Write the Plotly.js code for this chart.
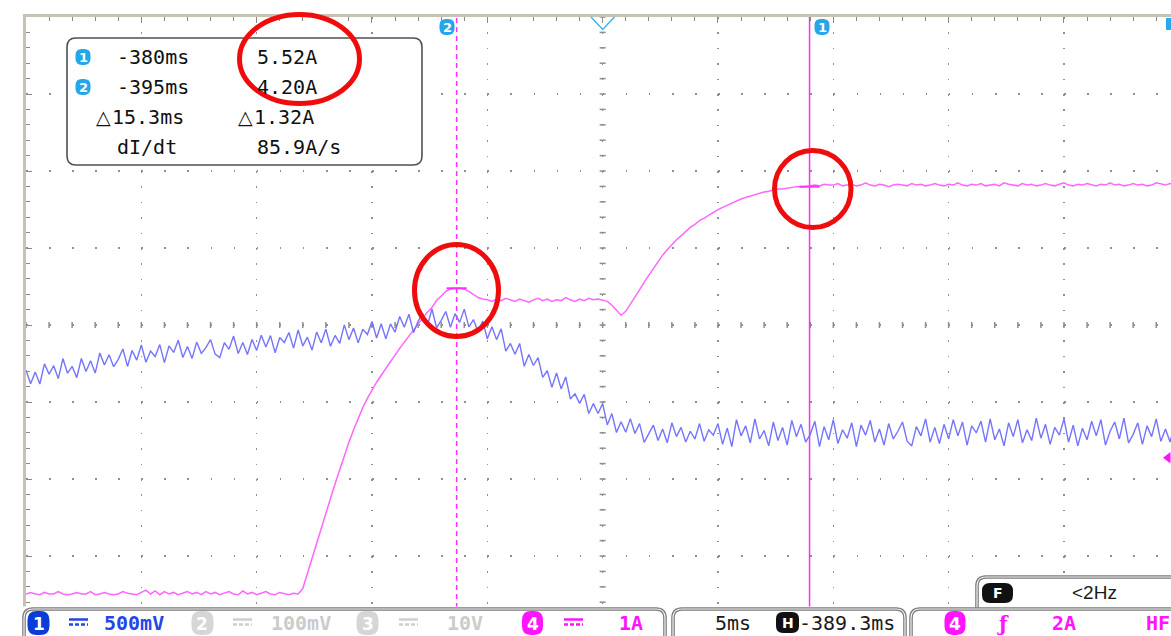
<!DOCTYPE html>
<html><head><meta charset="utf-8">
<script src="https://cdn.plot.ly/plotly-3.0.1.min.js"></script>
<style>html,body{margin:0;padding:0;background:#fff;overflow:hidden}#chart{width:1171px;height:636px}</style>
</head><body><div id="chart"></div>
<script>
// ---- acquisition settings ----
const startTimeMs = -414.3;      // left edge of the screen
const sampleStepMs = 0.2;        // sample spacing
const timePerDivMs = 5;          // 5ms/div
const ch4AmpsPerDiv = 1;         // 1A/div
const ch1mVPerDiv = 500;         // 500mV/div
const triggerTimeMs = -389.3;    // H -389.3ms
const triggerLevelA = 2;         // trigger 2A

// ---- channel 4 (current, A) ----
const ch4Amps = [
0.23,0.25,0.23,0.22,0.25,0.23,0.23,0.26,0.23,0.22,
0.23,0.25,0.23,0.23,0.26,0.22,0.23,0.25,0.23,0.22,
0.23,0.26,0.24,0.23,0.22,0.25,0.28,0.23,0.27,0.22,
0.26,0.23,0.25,0.22,0.24,0.26,0.23,0.25,0.22,0.26,
0.23,0.25,0.22,0.24,0.26,0.23,0.22,0.27,0.23,0.25,
0.22,0.24,0.26,0.23,0.22,0.25,0.23,0.22,0.24,0.23,
0.30,0.50,0.70,0.90,1.09,1.28,1.47,1.66,1.85,2.03,
2.20,2.36,2.51,2.65,2.77,2.88,2.98,3.07,3.16,3.25,
3.34,3.42,3.50,3.58,3.66,3.74,3.81,3.89,3.95,4.04,
4.10,4.16,4.19,4.20,4.20,4.19,4.16,4.12,4.08,4.06,
4.05,4.03,4.06,4.04,4.07,4.05,4.03,4.06,4.04,4.02,
4.05,4.07,4.04,4.06,4.03,4.05,4.04,4.08,4.05,4.03,
4.06,4.04,4.07,4.05,4.06,4.04,
4.03,3.98,3.92,3.85,3.90,3.99,4.08,4.18,4.28,4.37,
4.46,4.55,4.63,4.70,4.77,4.83,4.88,4.94,4.99,5.03,
5.08,5.11,5.15,5.18,5.22,5.25,5.28,5.31,5.33,5.36,
5.38,5.40,5.42,5.43,5.45,5.46,5.48,5.49,5.49,5.50,
5.51,5.52,5.52,5.52,
5.53,5.54,5.53,5.55,5.54,5.54,5.56,5.53,5.54,5.55,
5.53,5.54,5.57,5.54,5.53,5.55,5.54,5.52,5.54,5.55,
5.54,5.53,5.56,5.54,5.55,5.53,5.54,5.56,5.54,5.53,
5.55,5.54,5.57,5.54,5.53,5.55,5.54,5.56,5.53,5.54,
5.55,5.53,5.57,5.55,5.54,5.53,5.56,5.54,5.55,5.53,
5.54,5.56,5.54,5.53,5.55,5.57,5.54,5.53,5.55,5.54,
5.56,5.54,5.53,5.55,5.54,5.57,5.54,5.55,5.53,5.54,
5.56,5.54,5.55,5.53,5.54,5.57,5.55,5.54,5.56,5.55
];

// ---- channel 1 (mV, relative to screen centre) ----
const ch1mV = [
-293,-382,-305,-383,-252,-320,-264,-348,-218,-313,
-268,-342,-217,-302,-232,-312,-182,-260,-193,-271,
-223,-156,-269,-166,-228,-130,-242,-169,-205,-127,
-244,-136,-178,-99,-211,-139,-217,-111,-184,-147,
-95,-189,-212,-115,-158,-72,-185,-114,-192,-94,
-165,-67,-143,-69,-180,-81,-113,-49,-150,-32,
-136,-79,-163,-46,-115,-27,-138,-68,-119,1,
-95,-20,-116,-27,-62,23,-84,8,-90,7,
-46,55,-15,70,-50,25,75,-5,104,-18,
30,88,-15,74,17,103,-12,35,-45,25,
-90,-12,-95,-25,-170,-120,-190,-120,-268,-192,
-263,-212,-340,-297,-405,-312,-415,-337,-480,-447,
-509,-450,-575,-510,-575,-510,-649,-575,-698,-628,
-696,-608,-705,-640,-762,-705,-650,-750,-675,-765,
-635,-725,-665,-760,-690,-740,-640,-755,-680,-715,
-640,-775,-670,-790,-615,-720,-655,-765,-610,-740,
-685,-785,-630,-750,-665,-780,-620,-725,-645,-760,
-710,-625,-790,-660,-745,-615,-770,-680,-735,-635,
-790,-650,-715,-620,-760,-675,-780,-640,-740,-690,
-630,-755,-785,-660,-720,-610,-760,-665,-770,-645,
-740,-615,-720,-630,-780,-655,-700,-625,-760,-610,
-745,-675,-785,-635,-725,-615,-765,-680,-750,-605,
-735,-645,-775,-665,-715,-610,-760,-650,-785,-670,
-745,-625,-720,-615,-780,-690,-630,-740,-605,-765,
-710,-635,-775,-655,-725,-610,-755,-675,-760,-645
];

// ---- cursors ----
const cursorNames = ['1','2'];
const cursorTimesMs = [-380.33, -395.63];
const cursorLevelsA = [5.52, 4.20];
const readoutLeft = ['-380ms','-395ms'];
const readoutRight = ['5.52A','4.20A'];
const deltaTime = '15.3ms';
const deltaAmp = '1.32A';
const slopeText = '85.9A/s';

// ---- status bar texts ----
const chScales = ['500mV','100mV','10V','1A'];
const timebaseText = '5ms';
const hposText = '-389.3ms';
const trigText = ['4','2A','HF'];
const filterText = '<2Hz';

const time = ch4Amps.map((_, i) => +(startTimeMs + i * sampleStepMs).toFixed(2));

// screen geometry (pixels)
const L = 26, T = 17, W = 1145, H = 616;
const pxPerMs = 115.33 / timePerDivMs;
const xEnd = startTimeMs + W / pxPerMs;
const yMinA = -0.277, yMaxA = yMinA + 8 * ch4AmpsPerDiv;
const px = x => (x - L) / W;
const py = y => (T + H - y) / H;

const MONO = 'DejaVu Sans Mono';
const shapes = [];
const annotations = [];

function rrPath(x0, y0, x1, y1, r) {
  const p = (x, y) => px(x).toFixed(5) + ',' + py(y).toFixed(5);
  return 'M' + p(x0, y0 + r) + ' Q' + p(x0, y0) + ' ' + p(x0 + r, y0) +
    ' L' + p(x1 - r, y0) + ' Q' + p(x1, y0) + ' ' + p(x1, y0 + r) +
    ' L' + p(x1, y1 - r) + ' Q' + p(x1, y1) + ' ' + p(x1 - r, y1) +
    ' L' + p(x0 + r, y1) + ' Q' + p(x0, y1) + ' ' + p(x0, y1 - r) + ' Z';
}
function text(t, x, y, size, color, opts) {
  opts = opts || {};
  annotations.push({xref:'paper', yref:'paper', x:px(x), y:py(y), text:t, showarrow:false,
    xanchor: opts.anchor || 'left', yanchor:'middle', borderpad:0,
    font:{family: opts.family || MONO, size:size, color:color}});
}
function badge(label, cx, cy, rx, ry, fill, txtColor, size) {
  shapes.push({type:'path', xref:'paper', yref:'paper', path:rrPath(cx - rx, cy - ry, cx + rx, cy + ry, Math.min(rx, ry) * 0.85),
    fillcolor:fill, line:{width:0}, layer:'above'});
  text('<b>' + label + '</b>', cx, cy + 0.5, size, txtColor, {anchor:'center', family:'DejaVu Sans'});
}
function dcSymbol(x0, y, color) {
  shapes.push({type:'line', xref:'paper', yref:'paper', x0:px(x0), x1:px(x0+19), y0:py(y-2.5), y1:py(y-2.5), line:{color:color, width:2.5}, layer:'above'});
  shapes.push({type:'line', xref:'paper', yref:'paper', x0:px(x0), x1:px(x0+19), y0:py(y+2.5), y1:py(y+2.5), line:{color:color, width:2.5, dash:'4px,2px'}, layer:'above'});
}

// centre-line tick marks
for (let t = startTimeMs; t <= xEnd + 1e-6; t += timePerDivMs / 5) {
  shapes.push({type:'line', xref:'x', yref:'paper', x0:t, x1:t, y0:0.5 - 3/H, y1:0.5 + 3/H,
    line:{color:'#8e8e8e', width:1.5}, layer:'below'});
}
for (let a = yMinA; a <= yMaxA + 1e-6; a += ch4AmpsPerDiv / 5) {
  shapes.push({type:'line', xref:'x', yref:'y', x0:triggerTimeMs - 3/pxPerMs, x1:triggerTimeMs + 3/pxPerMs, y0:a, y1:a,
    line:{color:'#8e8e8e', width:1.5}, layer:'below'});
}

// cursors
cursorTimesMs.forEach((t, k) => {
  shapes.push({type:'line', xref:'x', yref:'paper', x0:t, x1:t, y0:py(608), y1:1,
    line:{color:'#ff2cff', width:1.5, dash: k === 1 ? '5px,4px' : 'solid'}, layer:'between'});
  shapes.push({type:'line', xref:'x', yref:'y', x0:t - 10/pxPerMs, x1:t + 10/pxPerMs, y0:cursorLevelsA[k], y1:cursorLevelsA[k],
    line:{color:'#ff2cff', width:2}, layer:'above'});
});

// trigger position marker
shapes.push({type:'path', xref:'paper', yref:'paper',
  path:'M' + px(591) + ',' + py(17) + ' L' + px(602.7) + ',' + py(29.5) + ' L' + px(614.5) + ',' + py(17),
  line:{color:'#3cb4f0', width:1.5}, layer:'above'});
// partial cyan marker top right
shapes.push({type:'rect', xref:'paper', yref:'paper', x0:px(1166), x1:px(1172), y0:py(30), y1:py(18),
  fillcolor:'#2aa8ec', line:{width:0}, layer:'above'});

// cursor badges on top
badge(cursorNames[1], 447, 27, 7.5, 8, '#24a6ea', '#fff', 13);
badge(cursorNames[0], 822, 27, 7.5, 8, '#24a6ea', '#fff', 13);

// readout box
shapes.push({type:'path', xref:'paper', yref:'paper', path:rrPath(67, 38, 422, 165, 9),
  fillcolor:'#fff', line:{color:'#505050', width:1.6}, layer:'above'});
badge(cursorNames[0], 83, 57, 7.5, 8, '#24a6ea', '#fff', 13);
badge(cursorNames[1], 83, 87, 7.5, 8, '#24a6ea', '#fff', 13);
text(readoutLeft[0], 116, 57, 20, '#111');
text(readoutRight[0], 256, 57, 20, '#111');
text(readoutLeft[1], 116, 87, 20, '#111');
text(readoutRight[1], 256, 87, 20, '#111');
text('△', 95, 117, 19, '#111', {family:'DejaVu Sans'});
text(deltaTime, 111, 117, 20, '#111');
text('△', 237, 117, 19, '#111', {family:'DejaVu Sans'});
text(deltaAmp, 253, 117, 20, '#111');
text('dI/dt', 116, 147, 20, '#111');
text(slopeText, 256, 147, 20, '#111');

// red highlight ellipses
[[239.5, 14.5, 359.5, 103.5], [414.5, 244.5, 498.5, 336.5], [774.5, 150.5, 851, 227.5]].forEach(e => {
  shapes.push({type:'circle', xref:'paper', yref:'paper', x0:px(e[0]), x1:px(e[2]), y0:py(e[3]), y1:py(e[1]),
    line:{color:'#f00c0c', width:5}, layer:'above'});
});

// status bar background
shapes.push({type:'rect', xref:'paper', yref:'paper', x0:px(0), x1:px(1171), y0:py(640), y1:py(606.5),
  fillcolor:'#fff', line:{width:0}, layer:'above'});
function doubleBox(x0, y0, x1, y1, r) {
  shapes.push({type:'path', xref:'paper', yref:'paper', path:rrPath(x0, y0, x1, y1, r),
    fillcolor:'#fff', line:{color:'#7c7c7c', width:3.6}, layer:'above'});
  shapes.push({type:'path', xref:'paper', yref:'paper', path:rrPath(x0, y0, x1, y1, r),
    fillcolor:'rgba(0,0,0,0)', line:{color:'#f2f2f2', width:1.2}, layer:'above'});
}
doubleBox(977, 577, 1250, 640, 9);
doubleBox(24, 609, 665, 660, 9);
doubleBox(673, 609, 905, 660, 9);
doubleBox(911, 609, 1250, 660, 9);

// F badge
shapes.push({type:'path', xref:'paper', yref:'paper', path:rrPath(982, 583, 1013, 603, 8),
  fillcolor:'#111', line:{width:0}, layer:'above'});
text('<b>F</b>', 997.5, 593, 14, '#fff', {anchor:'center', family:'DejaVu Sans'});
text(filterText, 1071, 592, 19, '#1a1a1a', {family:'Liberation Sans'});

// status bar content
const SY = 623;
badge('1', 38.5, SY, 11, 12, '#0b3cd8', '#fff', 17);
dcSymbol(69, SY - 1, '#2346ea');
text('<b>' + chScales[0] + '</b>', 103, SY, 20, '#2346ea');
badge('2', 202.5, SY, 11, 12, '#d6d6d6', '#fff', 17);
dcSymbol(233, SY - 1, '#cfcfcf');
text('<b>' + chScales[1] + '</b>', 270, SY, 20, '#cbcbcb');
badge('3', 367.5, SY, 11, 12, '#d6d6d6', '#fff', 17);
dcSymbol(399, SY - 1, '#cfcfcf');
text('<b>' + chScales[2] + '</b>', 446, SY, 20, '#cbcbcb');
badge('4', 532.5, SY, 10.5, 12, '#ff14ff', '#fff', 17);
dcSymbol(564, SY - 1, '#ff14ff');
text('<b>' + chScales[3] + '</b>', 618, SY, 20, '#ff14ff');
text(timebaseText, 714, SY, 20, '#1a1a1a');
shapes.push({type:'path', xref:'paper', yref:'paper', path:rrPath(776, 612, 799, 633, 7),
  fillcolor:'#111', line:{width:0}, layer:'above'});
text('<b>H</b>', 787.5, SY, 14, '#fff', {anchor:'center', family:'DejaVu Sans'});
text(hposText, 798, SY, 20, '#1a1a1a');
badge(trigText[0], 955, SY, 10.5, 12, '#ff14ff', '#fff', 17);
text('<b>ƒ</b>', 996, SY + 1, 20, '#ff14ff', {family:'DejaVu Serif'});
text('<b>' + trigText[1] + '</b>', 1051, SY, 20, '#ff14ff');
text('<b>' + trigText[2] + '</b>', 1145, SY, 20, '#ff14ff');

const traces = [
  {x: time, y: ch1mV, type:'scatter', mode:'lines', yaxis:'y2',
   line:{color:'#7474ff', width:1.4}, hoverinfo:'skip', name:'CH1'},
  {x: time, y: ch4Amps, type:'scatter', mode:'lines',
   line:{color:'#ff66ff', width:1.5}, hoverinfo:'skip', name:'CH4'},
  {x:[xEnd - 3/pxPerMs], y:[triggerLevelA], type:'scatter', mode:'markers', cliponaxis:false,
   marker:{symbol:'triangle-left', size:10, color:'#ff14ff'}, hoverinfo:'skip', name:'trig'}
];

const layout = {
  width:1171, height:636,
  margin:{l:L, r:1171 - L - W, t:T, b:636 - T - H, pad:0},
  paper_bgcolor:'#fff', plot_bgcolor:'#fff', showlegend:false,
  xaxis:{range:[startTimeMs, xEnd], side:'top', tick0:startTimeMs, dtick:timePerDivMs,
    ticks:'inside', ticklen:6, tickcolor:'#8a8a8a', tickwidth:1, showticklabels:false,
    showgrid:true, gridcolor:'#8e8e8e', gridwidth:1.6, griddash:'1.6px,13.8px',
    showline:true, linecolor:'#c8c2b4', linewidth:3, zeroline:false, fixedrange:true,
    minor:{tick0:startTimeMs, dtick:timePerDivMs/5, ticks:'inside', ticklen:3.5, tickcolor:'#8a8a8a', showgrid:false}},
  yaxis:{range:[yMinA, yMaxA], tick0:yMinA + ch4AmpsPerDiv, dtick:ch4AmpsPerDiv,
    ticks:'inside', ticklen:6, tickcolor:'#8a8a8a', tickwidth:1, showticklabels:false,
    showgrid:true, gridcolor:'#8e8e8e', gridwidth:1.6, griddash:'1.6px,21.47px',
    showline:true, linecolor:'#c8c2b4', linewidth:3, zeroline:false, fixedrange:true,
    minor:{tick0:yMinA, dtick:ch4AmpsPerDiv/5, ticks:'inside', ticklen:3.5, tickcolor:'#8a8a8a', showgrid:false}},
  yaxis2:{overlaying:'y', range:[-4 * ch1mVPerDiv, 4 * ch1mVPerDiv], visible:false, fixedrange:true},
  shapes: shapes,
  annotations: annotations
};

Plotly.newPlot('chart', traces, layout, {displayModeBar:false, staticPlot:true});
</script></body></html>
